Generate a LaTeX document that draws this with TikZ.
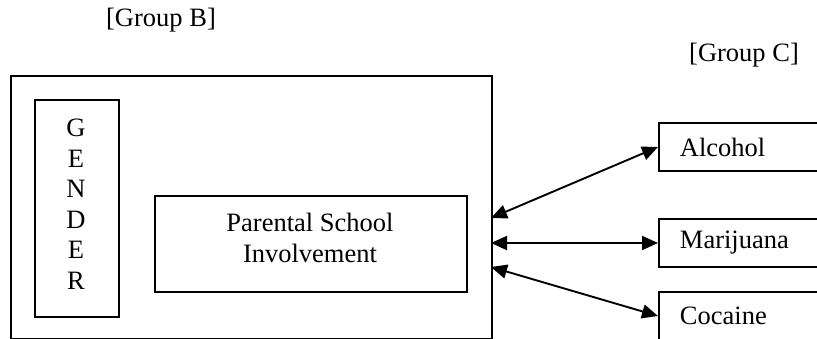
\documentclass[tikz,border=0pt]{standalone}
\usepackage{fontspec}
\setmainfont{Liberation Serif}
\usetikzlibrary{arrows.meta}
\begin{document}
\begin{tikzpicture}[x=1pt,y=-1pt,
  box/.style={draw=black, line width=1.9pt, inner sep=0pt},
  lbl/.style={font=\fontsize{26.5}{30.5}\selectfont, inner sep=0pt},
  rbox/.style={box, anchor=west, minimum height=48pt, text width=170pt, inner xsep=21pt, align=left, font=\fontsize{26.5}{30}\selectfont},
  link/.style={line width=1.9pt, {Triangle[length=16pt,width=14pt]}-{Triangle[length=16pt,width=14pt]}}]
\useasboundingbox (0,0) rectangle (817,339);
\clip (0,0) rectangle (817,339);
% titles
\node[lbl] (gb) at (161,20) {[Group B]};
\node[lbl] (gc) at (744,55) {[Group C]};
% outer group box
\node[box, anchor=north west, minimum width=481pt, minimum height=263pt] (outer) at (10,75) {};
% gender
\node[box, anchor=north west, minimum width=84pt, minimum height=217pt] (gender) at (34,99) {};
\node[lbl, align=center] (gtext) at (76,204) {G\\E\\N\\D\\E\\R};
% PSI
\node[box, anchor=north west, minimum width=312pt, minimum height=96pt] (psi) at (154,195) {};
\node[lbl, align=center, font=\fontsize{26.5}{31}\selectfont] (psitext) at (310,238) {Parental School\\Involvement};
% Group C boxes
\node[rbox] (alc) at (658,147) {Alcohol};
\node[rbox] (mar) at (658,243) {Marijuana};
\node[rbox] (coc) at (658,316) {Cocaine};
% arrow end points on outer box
\coordinate (pa) at (491,218);
\coordinate (pm) at (491,243);
\coordinate (pc) at (491,267);
\draw[link] (pa) -- (alc.west);
\draw[link] (pm) -- (mar.west);
\draw[link] (pc) -- (coc.west);
\end{tikzpicture}
\end{document}
